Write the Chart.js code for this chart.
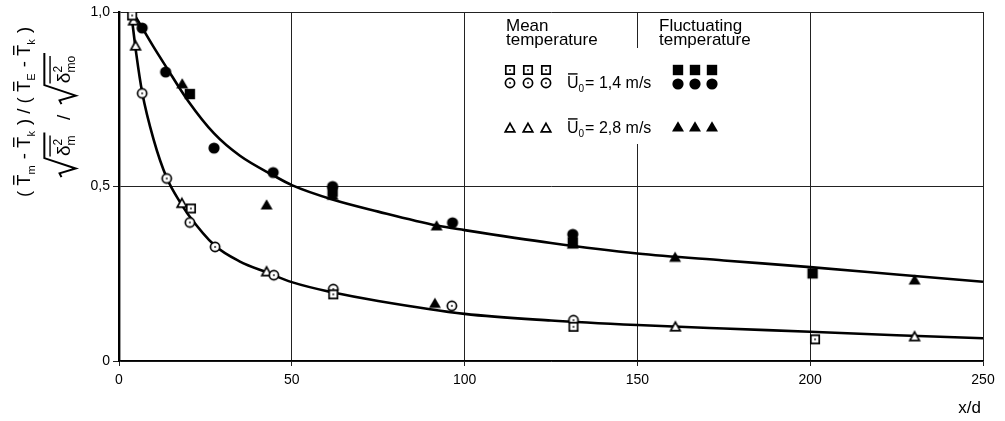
<!DOCTYPE html>
<html>
<head>
<meta charset="utf-8">
<script src="https://cdn.jsdelivr.net/npm/chart.js@4.4.1/dist/chart.umd.min.js"></script>
<style>
  html, body { margin: 0; padding: 0; background: #fff; }
</style>
</head>
<body>
<canvas id="chart" width="1005" height="421"></canvas>
<script>
// x/d values and normalised temperature values
const xTicks = [0, 50, 100, 150, 200, 250];
const yTicks = [0, 0.5, 1.0];

// fitted curves (as drawn in the figure)
const upperCurveX = [4, 6.7, 10, 13.5, 20, 27.5, 35, 45, 50, 62, 75, 92, 100, 125, 150, 175, 200, 225, 250];
const upperCurveY = [1.0, 0.955, 0.9, 0.845, 0.745, 0.652, 0.588, 0.53, 0.504, 0.462, 0.428, 0.388, 0.375, 0.338, 0.308, 0.288, 0.269, 0.248, 0.227];
const lowerCurveX = [3.5, 5, 6.7, 10, 13.8, 18, 20, 27.8, 35, 43, 50, 62, 75, 100, 125, 150, 175, 200, 225, 250];
const lowerCurveY = [1.0, 0.88, 0.77, 0.635, 0.525, 0.45, 0.42, 0.33, 0.285, 0.253, 0.226, 0.196, 0.172, 0.135, 0.116, 0.103, 0.093, 0.084, 0.074, 0.065];

// Mean temperature, U0 = 1,4 m/s
const meanSqX = [3.8, 20.8, 62, 131.5, 201.4];
const meanSqY = [0.99, 0.437, 0.191, 0.098, 0.062];
const meanCircX = [6.7, 13.8, 20.5, 27.8, 44.8, 62, 96.3, 131.5];
const meanCircY = [0.767, 0.523, 0.397, 0.327, 0.246, 0.206, 0.158, 0.117];
// Mean temperature, U0 = 2,8 m/s
const meanTriX = [4.2, 4.8, 18.2, 42.7, 161, 230.2];
const meanTriY = [0.975, 0.903, 0.452, 0.256, 0.098, 0.070];

// Fluctuating temperature, U0 = 1,4 m/s
const flucSqX = [20.5, 61.8, 131.3, 200.7];
const flucSqY = [0.765, 0.485, 0.34, 0.251];
const flucCircX = [6.7, 13.5, 27.5, 44.6, 61.8, 96.5, 131.3];
const flucCircY = [0.954, 0.828, 0.61, 0.54, 0.50, 0.396, 0.363];
// Fluctuating temperature, U0 = 2,8 m/s
const flucTriX = [18.3, 42.7, 61.8, 91.9, 91.4, 131.3, 160.9, 230.2];
const flucTriY = [0.794, 0.447, 0.475, 0.387, 0.165, 0.335, 0.297, 0.232];

const FONT = '"Liberation Sans", Arial, sans-serif';

function pts(xs, ys) {
  return xs.map((x, i) => ({ x: x, y: ys[i] }));
}

// Build small canvases used as point styles
function makeMarker(shape, filled) {
  const c = document.createElement('canvas');
  c.width = 14; c.height = 14;
  const g = c.getContext('2d');
  g.fillStyle = filled ? '#000' : '#fff';
  g.strokeStyle = '#000';
  g.lineWidth = 1.7;
  g.beginPath();
  if (shape === 'circle') {
    g.arc(7, 7, filled ? 5.6 : 4.6, 0, Math.PI * 2);
  } else if (shape === 'square') {
    if (filled) g.rect(1.8, 1.8, 10.4, 10.4);
    else g.rect(2.8, 2.8, 8.4, 8.4);
  } else {
    if (filled) { g.moveTo(7, 1.2); g.lineTo(13, 11.6); g.lineTo(1, 11.6); }
    else { g.moveTo(7, 2.3); g.lineTo(11.8, 10.9); g.lineTo(2.2, 10.9); }
    g.closePath();
  }
  g.fill();
  if (!filled) {
    g.stroke();
    if (shape !== 'triangle') {
      g.fillStyle = '#000';
      g.fillRect(6.2, 6.2, 1.6, 1.6);
    }
  }
  return c;
}

const mk = {
  sqOpen: makeMarker('square', false),
  circOpen: makeMarker('circle', false),
  triOpen: makeMarker('triangle', false),
  sqFill: makeMarker('square', true),
  circFill: makeMarker('circle', true),
  triFill: makeMarker('triangle', true)
};

// Rich text helper: subscripts, superscripts, overbars and square roots
function rich(ctx, items, x, y, size, draw) {
  for (const it of items) {
    if (it.root) {
      const rw = size * 1.0;
      const end = rich(ctx, it.root, x + rw + 2, y, size, false);
      const top = y - size * 1.35;
      if (draw) {
        ctx.lineWidth = 2;
        ctx.beginPath();
        ctx.moveTo(x, y - size * 0.45);
        ctx.lineTo(x + rw * 0.2, y - size * 0.55);
        ctx.lineTo(x + rw * 0.45, y + size * 0.3);
        ctx.lineTo(x + rw, top);
        ctx.lineTo(end + 2, top);
        ctx.stroke();
        rich(ctx, it.root, x + rw + 2, y, size, true);
      }
      x = end + 4;
    } else if (it.sup !== undefined || it.sub !== undefined) {
      const s = Math.round(size * 0.62);
      ctx.font = s + 'px ' + FONT;
      const w = Math.max(ctx.measureText(it.sup || '').width, ctx.measureText(it.sub || '').width);
      if (draw) {
        if (it.sup) ctx.fillText(it.sup, x, y - size * 0.4);
        if (it.sub) ctx.fillText(it.sub, x, y + size * 0.28);
        if (it.bar) {
          ctx.lineWidth = 1.4;
          ctx.beginPath();
          ctx.moveTo(x - it.barBack, y - size * 1.05);
          ctx.lineTo(x + w, y - size * 1.05);
          ctx.stroke();
        }
      }
      x += w + 1;
    } else {
      ctx.font = size + 'px ' + FONT;
      const w = ctx.measureText(it.t).width;
      if (draw) {
        ctx.fillText(it.t, x, y);
        if (it.bar) {
          ctx.lineWidth = 1.4;
          ctx.beginPath();
          ctx.moveTo(x + 1, y - size * 0.88);
          ctx.lineTo(x + w - 1, y - size * 0.88);
          ctx.stroke();
        }
      }
      x += w;
    }
  }
  return x;
}

function richCentered(ctx, items, cx, y, size) {
  const w = rich(ctx, items, 0, y, size, false);
  rich(ctx, items, cx - w / 2, y, size, true);
}

const yLine1 = [
  { t: '( ' }, { t: 'T', bar: true }, { sub: 'm' }, { t: ' - ' },
  { t: 'T', bar: true }, { sub: 'k' }, { t: ' ) / ( ' },
  { t: 'T', bar: true }, { sub: 'E' }, { t: ' - ' },
  { t: 'T', bar: true }, { sub: 'k' }, { t: ' )' }
];
const yLine2 = [
  { root: [{ t: 'δ' }, { sup: '2', sub: 'm', bar: true, barBack: 11 }] },
  { t: '  /  ' },
  { root: [{ t: 'δ' }, { sup: '2', sub: 'mo', bar: true, barBack: 11 }] }
];

const figurePlugin = {
  id: 'figurePlugin',
  beforeDatasetsDraw(chart) {
    const ctx = chart.ctx;
    // white box behind the legend
    ctx.save();
    ctx.fillStyle = '#fff';
    ctx.fillRect(497, 48, 290, 96);
    ctx.restore();
  },
  afterDatasetsDraw(chart) {
    const ctx = chart.ctx;
    ctx.save();
    ctx.fillStyle = '#000';
    ctx.strokeStyle = '#000';
    ctx.textBaseline = 'alphabetic';

    // legend headings
    ctx.font = '17px ' + FONT;
    ctx.fillText('Mean', 506, 31);
    ctx.fillText('temperature', 506, 45);
    ctx.fillText('Fluctuating', 659, 31);
    ctx.fillText('temperature', 659, 45);

    const put = (img, x, y) => ctx.drawImage(img, x - 7, y - 7);
    [510, 528, 546].forEach(x => { put(mk.sqOpen, x, 70); put(mk.circOpen, x, 83); put(mk.triOpen, x, 128); });
    [678, 695, 712].forEach(x => { put(mk.sqFill, x, 70); put(mk.circFill, x, 84); put(mk.triFill, x, 127); });

    ctx.fillStyle = '#000';
    rich(ctx, [{ t: 'U', bar: true }, { sub: '0' }, { t: '= 1,4 m/s' }], 567, 88, 16, true);
    rich(ctx, [{ t: 'U', bar: true }, { sub: '0' }, { t: '= 2,8 m/s' }], 567, 133, 16, true);

    // x axis title
    ctx.font = '17px ' + FONT;
    ctx.textAlign = 'right';
    ctx.fillText('x/d', 981, 413);
    ctx.textAlign = 'left';

    // y axis title (two lines, rotated)
    ctx.translate(42, 112);
    ctx.rotate(-Math.PI / 2);
    richCentered(ctx, yLine1, 0, -12, 18.5);
    richCentered(ctx, yLine2, -2, 28, 19);
    ctx.restore();
  }
};

const curveStyle = {
  showLine: true,
  pointRadius: 0,
  borderColor: '#000',
  borderWidth: 2.6,
  cubicInterpolationMode: 'monotone',
  fill: false,
  order: 10
};

function markerSet(label, xs, ys, img) {
  return {
    label: label,
    data: pts(xs, ys),
    pointStyle: img,
    pointRadius: 6,
    showLine: false,
    order: 1
  };
}

new Chart(document.getElementById('chart'), {
  type: 'scatter',
  data: {
    datasets: [
      Object.assign({ label: 'Curve fluctuating', data: pts(upperCurveX, upperCurveY) }, curveStyle),
      Object.assign({ label: 'Curve mean', data: pts(lowerCurveX, lowerCurveY) }, curveStyle),
      markerSet('Mean 1,4 m/s (a)', meanSqX, meanSqY, mk.sqOpen),
      markerSet('Mean 1,4 m/s (b)', meanCircX, meanCircY, mk.circOpen),
      markerSet('Mean 2,8 m/s', meanTriX, meanTriY, mk.triOpen),
      markerSet('Fluctuating 1,4 m/s (a)', flucSqX, flucSqY, mk.sqFill),
      markerSet('Fluctuating 1,4 m/s (b)', flucCircX, flucCircY, mk.circFill),
      markerSet('Fluctuating 2,8 m/s', flucTriX, flucTriY, mk.triFill)
    ]
  },
  options: {
    responsive: false,
    animation: false,
    events: [],
    layout: { padding: { left: 0, right: 22, top: 12, bottom: 0 } },
    plugins: {
      legend: { display: false },
      tooltip: { enabled: false }
    },
    scales: {
      x: {
        type: 'linear',
        min: 0,
        max: 250,
        afterBuildTicks: s => { s.ticks = xTicks.map(v => ({ value: v })); },
        afterFit: s => { s.height = 60; },
        ticks: {
          color: '#000',
          padding: 6,
          font: { family: FONT, size: 14 },
          callback: v => String(v)
        },
        grid: { color: '#222', lineWidth: 1, tickLength: 5 },
        border: { color: '#000', width: 1.2 }
      },
      y: {
        type: 'linear',
        min: 0,
        max: 1,
        afterBuildTicks: s => { s.ticks = yTicks.map(v => ({ value: v })); },
        afterFit: s => { s.width = 119; },
        ticks: {
          color: '#000',
          padding: 3,
          font: { family: FONT, size: 14 },
          callback: v => (v === 0 ? '0' : v.toFixed(1).replace('.', ','))
        },
        grid: { color: '#222', lineWidth: 1, tickLength: 6 },
        border: { color: '#000', width: 2.4 }
      }
    }
  },
  plugins: [figurePlugin]
});
</script>
</body>
</html>
